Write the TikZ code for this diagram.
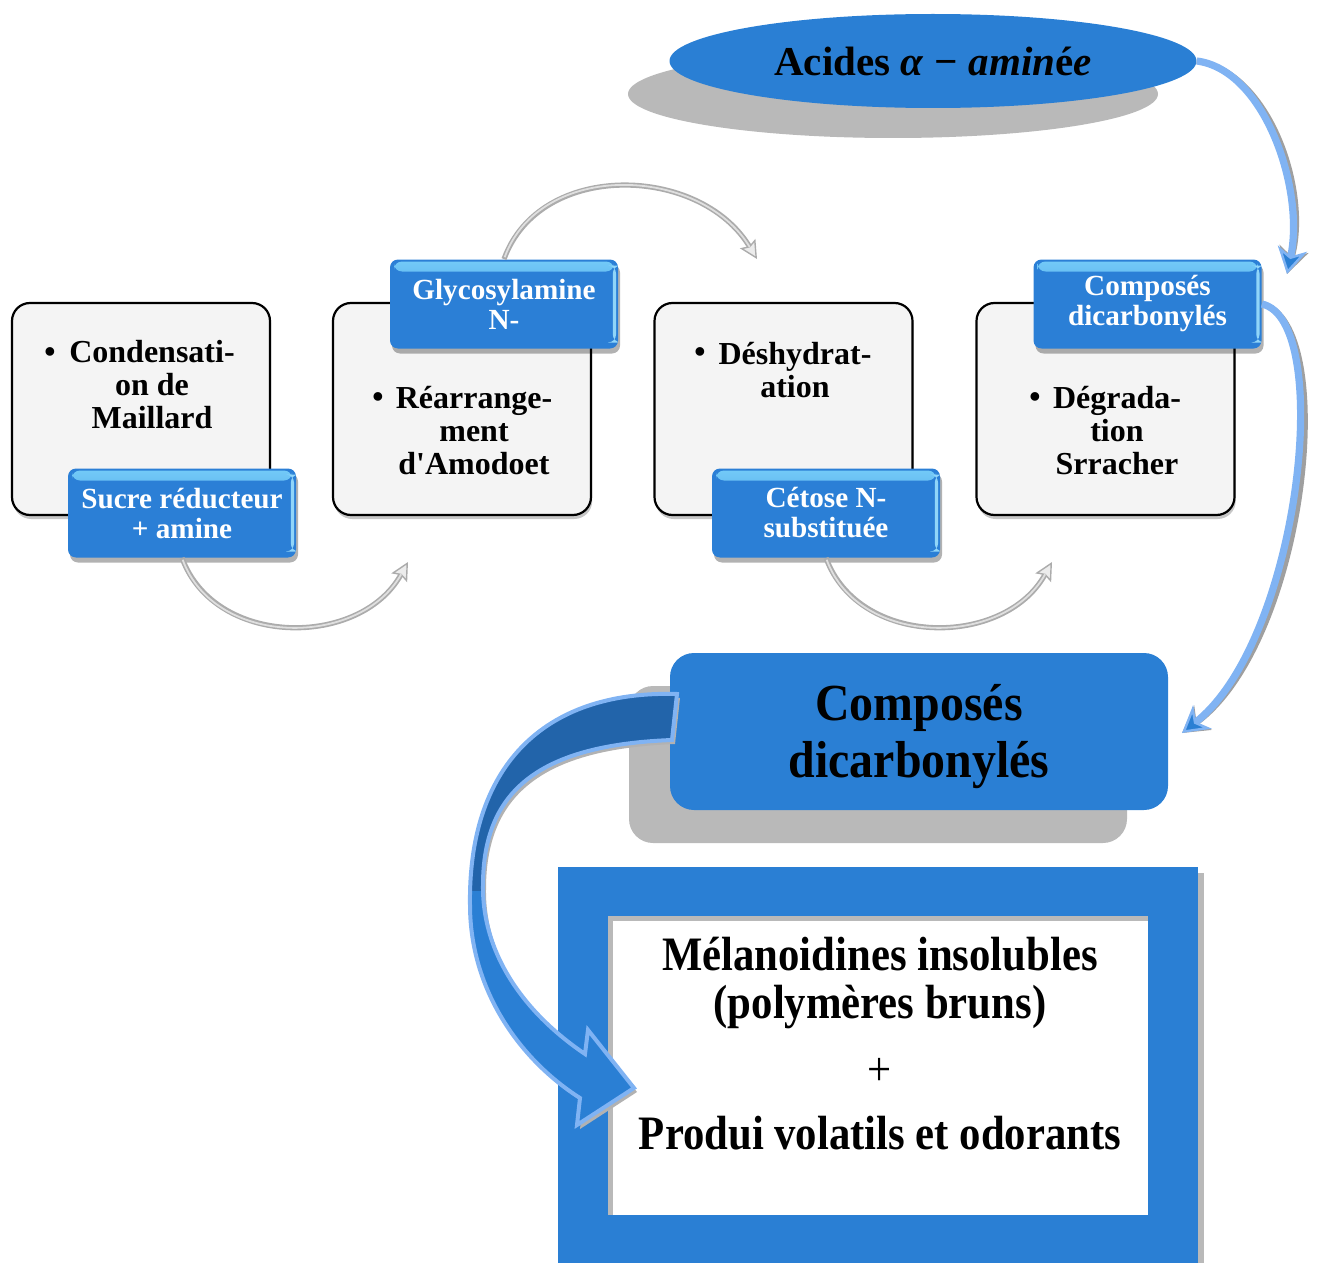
\documentclass[tikz,border=0pt]{standalone}
\usepackage{fontspec}
\setmainfont{Liberation Serif}
\newfontfamily\narrowserif{Liberation Serif}[FakeStretch=0.89]
\newfontfamily\blockserif{Liberation Serif}[FakeStretch=0.92]
\usetikzlibrary{arrows.meta,shadows,shapes.geometric}

\definecolor{tagblue}{HTML}{2B7FD6}
\definecolor{mainblue}{HTML}{2A7FD4}
\definecolor{deepblue}{HTML}{2264AA}
\definecolor{paleblue}{HTML}{80B3F3}
\definecolor{hiblue}{HTML}{74CBF8}
\definecolor{shadowgray}{HTML}{B9B9B9}
\definecolor{boxfill}{HTML}{F4F4F4}

% outline of the broad curved block arrow
\def\bandpath{(677,694) .. controls (540,690) and (468,770) .. (470,905)
  .. controls (470,990) and (520,1060) .. (580,1098) -- (577,1125) -- (634,1088)
  -- (588,1030) -- (585,1054) .. controls (520,1010) and (482,950) .. (483,885)
  .. controls (483,790) and (540,745) .. (672,740) -- cycle}

\begin{document}
\begin{tikzpicture}[x=0.5pt,y=-0.5pt,
  stepcard/.style={draw=black, line width=1.1pt, fill=boxfill, rounded corners=9pt,
    minimum width=129pt, minimum height=106pt, inner sep=0pt,
    drop shadow={shadow xshift=0.6pt, shadow yshift=-2pt, opacity=0.22, fill=black}},
  cardtext/.style={font=\fontsize{16}{16.5}\selectfont\bfseries, align=center, inner sep=0pt},
  tag/.style={fill=tagblue, rounded corners=4pt, minimum width=114pt, minimum height=44.5pt,
    inner sep=0pt, text=white, align=center, font=\fontsize{14.6}{15}\selectfont\bfseries,
    drop shadow={shadow xshift=1pt, shadow yshift=-2.5pt, opacity=0.3, fill=black},
    path picture={
      \shade[top color=hiblue, bottom color=tagblue]
        ([xshift=2pt,yshift=-1pt]path picture bounding box.north west)
        rectangle ([xshift=-2pt,yshift=-6pt]path picture bounding box.north east);
      \fill[hiblue!80]
        ([xshift=-2.6pt,yshift=-3pt]path picture bounding box.north east)
        rectangle ([xshift=-1pt,yshift=3pt]path picture bounding box.south east);
    }},
  silver/.style={draw=gray!65, line width=2.6pt,
    -{Stealth[length=9pt, width=9pt, inset=1.5pt, fill=gray!15, color=gray!65, line width=0.7pt]}},
  silvercore/.style={draw=gray!25, line width=0.9pt, shorten >=7pt, shorten <=1pt},
  ribbon/.style={draw=paleblue, line width=3.6pt,
    -{Stealth[length=13pt, width=15pt, inset=4pt, fill=mainblue, color=paleblue, line width=1.2pt]}},
  ribbonshadow/.style={draw=gray!75, line width=3pt,
    -{Stealth[length=13pt, width=15pt, inset=4pt, fill=gray!75, color=gray!75, line width=1.2pt]}}
]
\useasboundingbox (0,0) rectangle (1318,1263);

% amino acid ellipse with its offset shadow
\node[ellipse, fill=shadowgray, minimum width=265pt, minimum height=44pt, inner sep=0pt] (ellshade) at (893,94) {};
\node[ellipse, fill=mainblue, minimum width=263.5pt, minimum height=47pt, inner sep=0pt,
  font=\fontsize{20.5}{20.5}\selectfont] (acid) at (933,61)
  {\raisebox{-3.5pt}{\bfseries Acides \itshape α − amin\upshape é\itshape e}};

% four reaction steps
\node[stepcard] (b1) at (141,409) {};
\node[stepcard] (b2) at (462,409) {};
\node[stepcard] (b3) at (783.5,409) {};
\node[stepcard] (b4) at (1105.5,409) {};

\node[cardtext] (d1) at (50,355) {•};
\node[cardtext] (t1) at (152,385) {Condensati-\\on de\\Maillard};
\node[cardtext] (d2) at (378,400) {•};
\node[cardtext] (t2) at (474,431) {Réarrange-\\ment\\d\textquotesingle Amodoet};
\node[cardtext] (d3) at (700,355) {•};
\node[cardtext] (t3) at (795,370) {Déshydrat-\\ation};
\node[cardtext] (d4) at (1035,400) {•};
\node[cardtext] (t4) at (1117,431) {Dégrada-\\tion\\Srracher};

% intermediate products
\node[tag] (l1) at (182,513) {Sucre réducteur\\+ amine};
\node[tag] (l2) at (504,304) {Glycosylamine\\N-};
\node[tag] (l3) at (826,513) {Cétose N-\\substituée};
\node[tag] (l4) at (1147.5,304) {Composés\\dicarbonylés};

% silver links between the steps
\coordinate (e1) at (408,562);
\coordinate (e2) at (757,259);
\coordinate (e3) at (1052,562);
\draw[silver] (l1.south) .. controls (215,648) and (360,648) .. (e1);
\draw[silvercore] (l1.south) .. controls (215,648) and (360,648) .. (e1);
\draw[silver] (l2.north) .. controls (540,160) and (700,165) .. (e2);
\draw[silvercore] (l2.north) .. controls (540,160) and (700,165) .. (e2);
\draw[silver] (l3.south) .. controls (859,648) and (1004,648) .. (e3);
\draw[silvercore] (l3.south) .. controls (859,648) and (1004,648) .. (e3);

% dicarbonyl compounds block
\node[fill=shadowgray, rounded corners=12pt, minimum width=249pt, minimum height=78.5pt, inner sep=0pt] (bigshade) at (878,764.5) {};
\node[fill=mainblue, rounded corners=12pt, minimum width=249pt, minimum height=78.5pt, inner sep=0pt] (big) at (919,731.5) {};
\node[font=\blockserif\fontsize{26}{28.5}\selectfont\bfseries, align=center, inner sep=0pt] (bigtext) at (919,737)
  {Composés\\dicarbonylés};

% final products frame
\fill[gray!55] (564,873) rectangle (1204,1263);
\fill[mainblue] (558,867) rectangle (1198,1263);
\fill[gray!55] (608,916) rectangle (1148,1215);
\node[fill=white, minimum width=267.5pt, minimum height=147pt, inner sep=0pt] (res) at (880.5,1068) {};
\node[font=\narrowserif\fontsize{24}{24}\selectfont\bfseries, align=center, inner sep=0pt] (restext) at (880,1044)
  {Mélanoidines insolubles\\(polymères bruns)\\[9.5pt]{\mdseries +}\\[8pt]Produi volatils et odorants};

% broad curved block arrow towards the final products
\fill[gray!60, shift={(3,4)}] \bandpath;
\fill[mainblue] \bandpath;
\begin{scope}
  \clip (300,600) rectangle (720,890);
  \fill[deepblue] \bandpath;
\end{scope}
\draw[paleblue, line width=2pt, line join=miter] \bandpath;

% slim ribbon arrows on the right
\coordinate (e4) at (1287,274);
\coordinate (e5) at (1182,733);
\draw[ribbonshadow, shift={(5,2)}] (acid.east) .. controls (1265,70) and (1305,190) .. (e4);
\draw[ribbon] (acid.east) .. controls (1265,70) and (1305,190) .. (e4);
\draw[ribbonshadow, shift={(6,3)}] (l4.east) .. controls (1335,320) and (1300,640) .. (e5);
\draw[ribbon] (l4.east) .. controls (1335,320) and (1300,640) .. (e5);
\end{tikzpicture}
\end{document}
